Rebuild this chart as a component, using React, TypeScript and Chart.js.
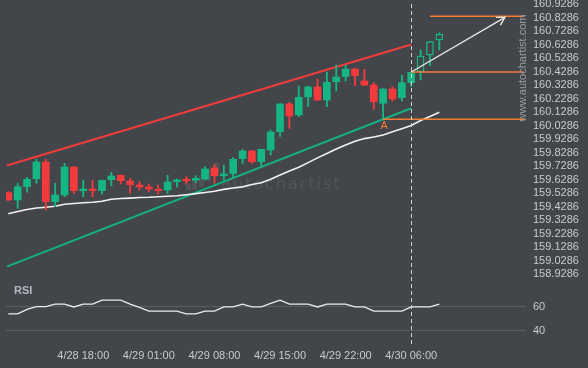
import React, { useEffect, useRef } from 'react';
import { Chart, registerables } from 'chart.js';
Chart.register(...registerables);

const BG = '#42454a';
const UP = '#16b584';
const DOWN = '#f33b3e';
const TEXT = '#c9cacc';
const ORANGE = '#f27c32';
const FONT = '"Liberation Sans", Arial, sans-serif';

const opens = [159.5320, 159.4779, 159.5765, 159.6358, 159.7596, 159.4653, 159.5150, 159.7225, 159.5469, 159.5595, 159.5469, 159.6284, 159.6610, 159.6188, 159.5891, 159.5743, 159.5572, 159.5521, 159.6136, 159.6314, 159.6240, 159.6336, 159.7151, 159.6573, 159.6744, 159.7841, 159.8412, 159.7618, 159.8486, 159.9842, 160.1896, 160.1080, 160.2415, 160.3156, 160.2192, 160.3549, 160.3934, 160.4490, 160.3601, 160.3304, 160.1948, 160.3008, 160.2363, 160.3475, 160.4290, 160.5528, 160.6640];
const highs = [159.5409, 159.6017, 159.6462, 159.7796, 159.7796, 159.6017, 159.7500, 159.7262, 159.6240, 159.6225, 159.6262, 159.6833, 159.6632, 159.6388, 159.6136, 159.5965, 159.5891, 159.6610, 159.6336, 159.6506, 159.6581, 159.7248, 159.7411, 159.7374, 159.7930, 159.8523, 159.8449, 159.8538, 159.9968, 160.1933, 160.2022, 160.3230, 160.3230, 160.3749, 160.4268, 160.4787, 160.4787, 160.4527, 160.4468, 160.3475, 160.3045, 160.3178, 160.4045, 160.4268, 160.5899, 160.6514, 160.7181];
const lows = [159.4742, 159.4164, 159.5350, 159.6017, 159.4038, 159.4283, 159.5024, 159.5276, 159.5024, 159.5024, 159.5202, 159.5817, 159.5965, 159.5276, 159.5521, 159.5395, 159.5224, 159.5276, 159.5721, 159.5965, 159.6062, 159.6262, 159.6017, 159.6262, 159.6484, 159.7500, 159.7500, 159.7300, 159.8115, 159.9486, 160.0094, 160.0954, 160.1710, 160.2155, 160.1695, 160.2859, 160.3601, 160.3252, 160.3267, 160.1503, 160.0761, 160.2118, 160.2118, 160.3178, 160.3675, 160.4735, 160.5899];
const closes = [159.4779, 159.5765, 159.6314, 159.7596, 159.4653, 159.5150, 159.7225, 159.5469, 159.5595, 159.5469, 159.6240, 159.6558, 159.6210, 159.5913, 159.5743, 159.5595, 159.5469, 159.6114, 159.6262, 159.6188, 159.6388, 159.7077, 159.6581, 159.6707, 159.7796, 159.8412, 159.7618, 159.8538, 159.9820, 160.1896, 160.1006, 160.2392, 160.3156, 160.2192, 160.3504, 160.3897, 160.4490, 160.3993, 160.3304, 160.2066, 160.3008, 160.2266, 160.3475, 160.4246, 160.5454, 160.6514, 160.7062];
const hollowFrom = 44;

const maValues = [159.3756, 159.3926, 159.4075, 159.4186, 159.4245, 159.4312, 159.4468, 159.4520, 159.4571, 159.4616, 159.4683, 159.4838, 159.4890, 159.4920, 159.4964, 159.4986, 159.5024, 159.5053, 159.5090, 159.5172, 159.5253, 159.5335, 159.5424, 159.5565, 159.5669, 159.5750, 159.5928, 159.6054, 159.6321, 159.6632, 159.6929, 159.7210, 159.7551, 159.7900, 159.8233, 159.8559, 159.8856, 159.9130, 159.9330, 159.9449, 159.9597, 159.9835, 160.0064, 160.0309, 160.0672, 160.0976, 160.1280];
const rsiValues = [54, 54, 57.7, 60, 60, 62.2, 62.2, 59.8, 62.2, 62.2, 65.5, 65.5, 65.5, 62.2, 59.4, 56.4, 56.4, 56.4, 56.4, 54, 54, 56.4, 56.4, 59.8, 59.8, 62.2, 59.8, 59.8, 62.7, 65.5, 62.2, 62.2, 62.2, 59.8, 62.2, 62.2, 62.2, 59.8, 59.8, 56.4, 56.4, 56.4, 56.4, 59.8, 59.8, 59.8, 62.2];

const priceTicks = [160.9286, 160.8286, 160.7286, 160.6286, 160.5286, 160.4286, 160.3286, 160.2286, 160.1286, 160.0286, 159.9286, 159.8286, 159.7286, 159.6286, 159.5286, 159.4286, 159.3286, 159.2286, 159.1286, 159.0286, 158.9286];
const rsiTicks = [40, 60];
const timeTickIndex = [8, 15, 22, 29, 36, 43];
const timeTickLabels = ['4/28 18:00', '4/29 01:00', '4/29 08:00', '4/29 15:00', '4/29 22:00', '4/30 06:00'];
const markerIndex = 43;

const resistanceLine = [{ x: -0.15, y: 159.7337 }, { x: 43, y: 160.6306 }];
const supportLine = [{ x: -0.15, y: 158.9835 }, { x: 43, y: 160.1577 }];
const targetLine = [{ x: 45, y: 160.8397 }, { x: 55.05, y: 160.8397 }];
const entryLine = [{ x: 43, y: 160.4268 }, { x: 55.05, y: 160.4268 }];
const pointALine = [{ x: 40, y: 160.0761 }, { x: 55.05, y: 160.0761 }];
const arrowLine = [{ x: 43, y: 160.4268 }, { x: 53.0, y: 160.8323 }];

const idx = opens.map((_, i) => i);

const bgPlugin = {
  id: 'bgfill',
  beforeDraw(chart: any) {
    const { ctx, width, height } = chart;
    ctx.save();
    ctx.fillStyle = BG;
    ctx.fillRect(0, 0, width, height);
    ctx.restore();
  },
};

const watermarkPlugin = {
  id: 'watermark',
  beforeDatasetsDraw(chart: any) {
    const { ctx } = chart;
    ctx.save();
    ctx.fillStyle = 'rgba(255,255,255,0.08)';
    const bars = [[186, 184, 5, 6], [192, 180, 5, 10], [199, 175, 5, 12], [206, 170, 5, 11], [214, 163, 5, 12]];
    bars.forEach(([x, y, w, h]) => ctx.fillRect(x, y, w, h));
    ctx.font = '16px "DejaVu Sans"';
    try { (ctx as any).letterSpacing = '2px'; } catch (e) {}
    ctx.textBaseline = 'alphabetic';
    ctx.textAlign = 'left';
    ctx.fillText('autochartist', 221, 189);
    ctx.restore();
  },
};

const overlayPlugin = {
  id: 'overlay',
  afterDatasetsDraw(chart: any) {
    const { ctx, chartArea } = chart;
    const xs = chart.scales.x;
    const ys = chart.scales.y;
    ctx.save();
    const vx = Math.round(xs.getPixelForValue(markerIndex)) + 0.5;
    ctx.setLineDash([4, 3]);
    ctx.strokeStyle = '#cfd0d2';
    ctx.lineWidth = 1;
    ctx.beginPath();
    ctx.moveTo(vx, chartArea.top + 4);
    ctx.lineTo(vx, chartArea.bottom);
    ctx.stroke();
    ctx.setLineDash([]);
    const x0 = xs.getPixelForValue(arrowLine[0].x), y0 = ys.getPixelForValue(arrowLine[0].y);
    const x1 = xs.getPixelForValue(arrowLine[1].x), y1 = ys.getPixelForValue(arrowLine[1].y);
    const ang = Math.atan2(y1 - y0, x1 - x0);
    ctx.strokeStyle = '#e6e6e6';
    ctx.lineWidth = 1.4;
    ctx.beginPath();
    ctx.moveTo(x1 - 9 * Math.cos(ang - 0.52), y1 - 9 * Math.sin(ang - 0.52));
    ctx.lineTo(x1, y1);
    ctx.lineTo(x1 - 9 * Math.cos(ang + 0.52), y1 - 9 * Math.sin(ang + 0.52));
    ctx.stroke();
    ctx.fillStyle = ORANGE;
    ctx.font = '11px ' + FONT;
    ctx.textAlign = 'center';
    ctx.textBaseline = 'middle';
    ctx.fillText('A', xs.getPixelForValue(pointALine[0].x) + 1, ys.getPixelForValue(pointALine[0].y) + 7);
    ctx.fillStyle = '#b3b7bf';
    ctx.font = 'bold 11px ' + FONT;
    ctx.textAlign = 'left';
    ctx.fillText('RSI', 14, 291);
    ctx.translate(523, 68);
    ctx.rotate(-Math.PI / 2);
    ctx.fillStyle = '#9a9da2';
    ctx.font = '11px ' + FONT;
    ctx.textAlign = 'center';
    ctx.fillText('www.autochartist.com', 0, 0);
    ctx.restore();
  },
};

function lineDs(data: any[], color: string, width: number, order: number, axis = 'y') {
  return {
    type: 'line' as const,
    data,
    borderColor: color,
    borderWidth: width,
    pointRadius: 0,
    fill: false,
    tension: 0,
    yAxisID: axis,
    order,
  };
}

export default function App() {
  const ref = useRef<HTMLCanvasElement>(null);
  useEffect(() => {
    const isUp = (i: number) => closes[i] >= opens[i];
    const chart = new Chart(ref.current as HTMLCanvasElement, {
      type: 'bar',
      data: {
        datasets: [
          lineDs(rsiValues.map((v, i) => ({ x: i, y: v })), '#ececec', 1.3, 1, 'rsi') as any,
          lineDs(arrowLine, '#e6e6e6', 1.4, 1) as any,
          lineDs(targetLine, ORANGE, 1.5, 1) as any,
          lineDs(entryLine, ORANGE, 1.5, 1) as any,
          lineDs(pointALine, ORANGE, 1.5, 1) as any,
          {
            type: 'bar',
            data: idx.map((i) => ({ x: i, y: [opens[i], closes[i]] })),
            backgroundColor: (c: any) => (c.dataIndex >= hollowFrom ? BG : isUp(c.dataIndex) ? UP : DOWN),
            borderColor: (c: any) => (c.dataIndex >= hollowFrom ? UP : 'rgba(0,0,0,0)'),
            borderWidth: (c: any) => (c.dataIndex >= hollowFrom ? 1.4 : 0),
            borderSkipped: false,
            barThickness: 7,
            minBarLength: 1,
            grouped: false,
            yAxisID: 'y',
            order: 2,
          } as any,
          {
            type: 'bar',
            data: idx.map((i) => ({ x: i, y: [lows[i], highs[i]] })),
            backgroundColor: (c: any) => (c.dataIndex >= hollowFrom || isUp(c.dataIndex) ? UP : DOWN),
            borderWidth: 0,
            barThickness: 1.2,
            grouped: false,
            yAxisID: 'y',
            order: 3,
          } as any,
          lineDs(maValues.map((v, i) => ({ x: i, y: v })), '#f2f2f2', 1.6, 4) as any,
          lineDs(resistanceLine, '#f23c3c', 2, 4) as any,
          lineDs(supportLine, '#15b07f', 2, 4) as any,
        ],
      },
      options: {
        animation: false,
        responsive: false,
        devicePixelRatio: 1,
        layout: { padding: { left: 6, right: 0, top: 0, bottom: 0 } },
        plugins: { legend: { display: false }, tooltip: { enabled: false } },
        scales: {
          x: {
            type: 'linear',
            position: 'bottom',
            offset: false,
            min: -0.245,
            max: 55.25,
            grid: { display: false, drawTicks: false, offset: false },
            border: { display: false },
            ticks: {
              autoSkip: false,
              maxRotation: 0,
              padding: 3,
              color: TEXT,
              font: { family: FONT, size: 11 },
              callback: (v: any) => {
                const k = timeTickIndex.indexOf(Number(v));
                return k >= 0 ? timeTickLabels[k] : '';
              },
            },
            afterBuildTicks: (axis: any) => {
              axis.ticks = timeTickIndex.map((v) => ({ value: v }));
            },
            afterFit: (axis: any) => {
              axis.height = 22;
              axis.paddingLeft = 0;
              axis.paddingRight = 0;
            },
          },
          y: {
            type: 'linear',
            position: 'right',
            stack: 'panels',
            stackWeight: 282,
            min: 158.87,
            max: 160.9605,
            grid: { display: false, drawTicks: false },
            border: { display: false },
            ticks: {
              autoSkip: false,
              padding: 7,
              color: TEXT,
              font: { family: FONT, size: 11 },
              callback: (v: any) => Number(v).toFixed(4),
            },
            afterBuildTicks: (axis: any) => {
              axis.ticks = priceTicks.map((v) => ({ value: v }));
            },
            afterFit: (axis: any) => {
              axis.width = 62;
              axis.paddingTop = 0;
              axis.paddingBottom = 0;
            },
          },
          rsi: {
            type: 'linear',
            position: 'right',
            stack: 'panels',
            stackWeight: 64,
            min: 27.25,
            max: 80.6,
            grid: { display: true, drawTicks: false, color: '#5a5d62', lineWidth: 1 },
            border: { display: false },
            ticks: {
              autoSkip: false,
              padding: 7,
              color: TEXT,
              font: { family: FONT, size: 11 },
              callback: (v: any) => String(v),
            },
            afterBuildTicks: (axis: any) => {
              axis.ticks = rsiTicks.map((v) => ({ value: v }));
            },
            afterFit: (axis: any) => {
              axis.width = 62;
              axis.paddingTop = 0;
              axis.paddingBottom = 0;
            },
          },
        },
      } as any,
      plugins: [bgPlugin, watermarkPlugin, overlayPlugin],
    });
    return () => chart.destroy();
  }, []);
  return (
    <div style={{ position: 'fixed', left: 0, top: 0, width: 588, height: 368, background: BG }}>
      <canvas ref={ref} width={588} height={368} style={{ display: 'block', width: 588, height: 368 }} />
    </div>
  );
}
